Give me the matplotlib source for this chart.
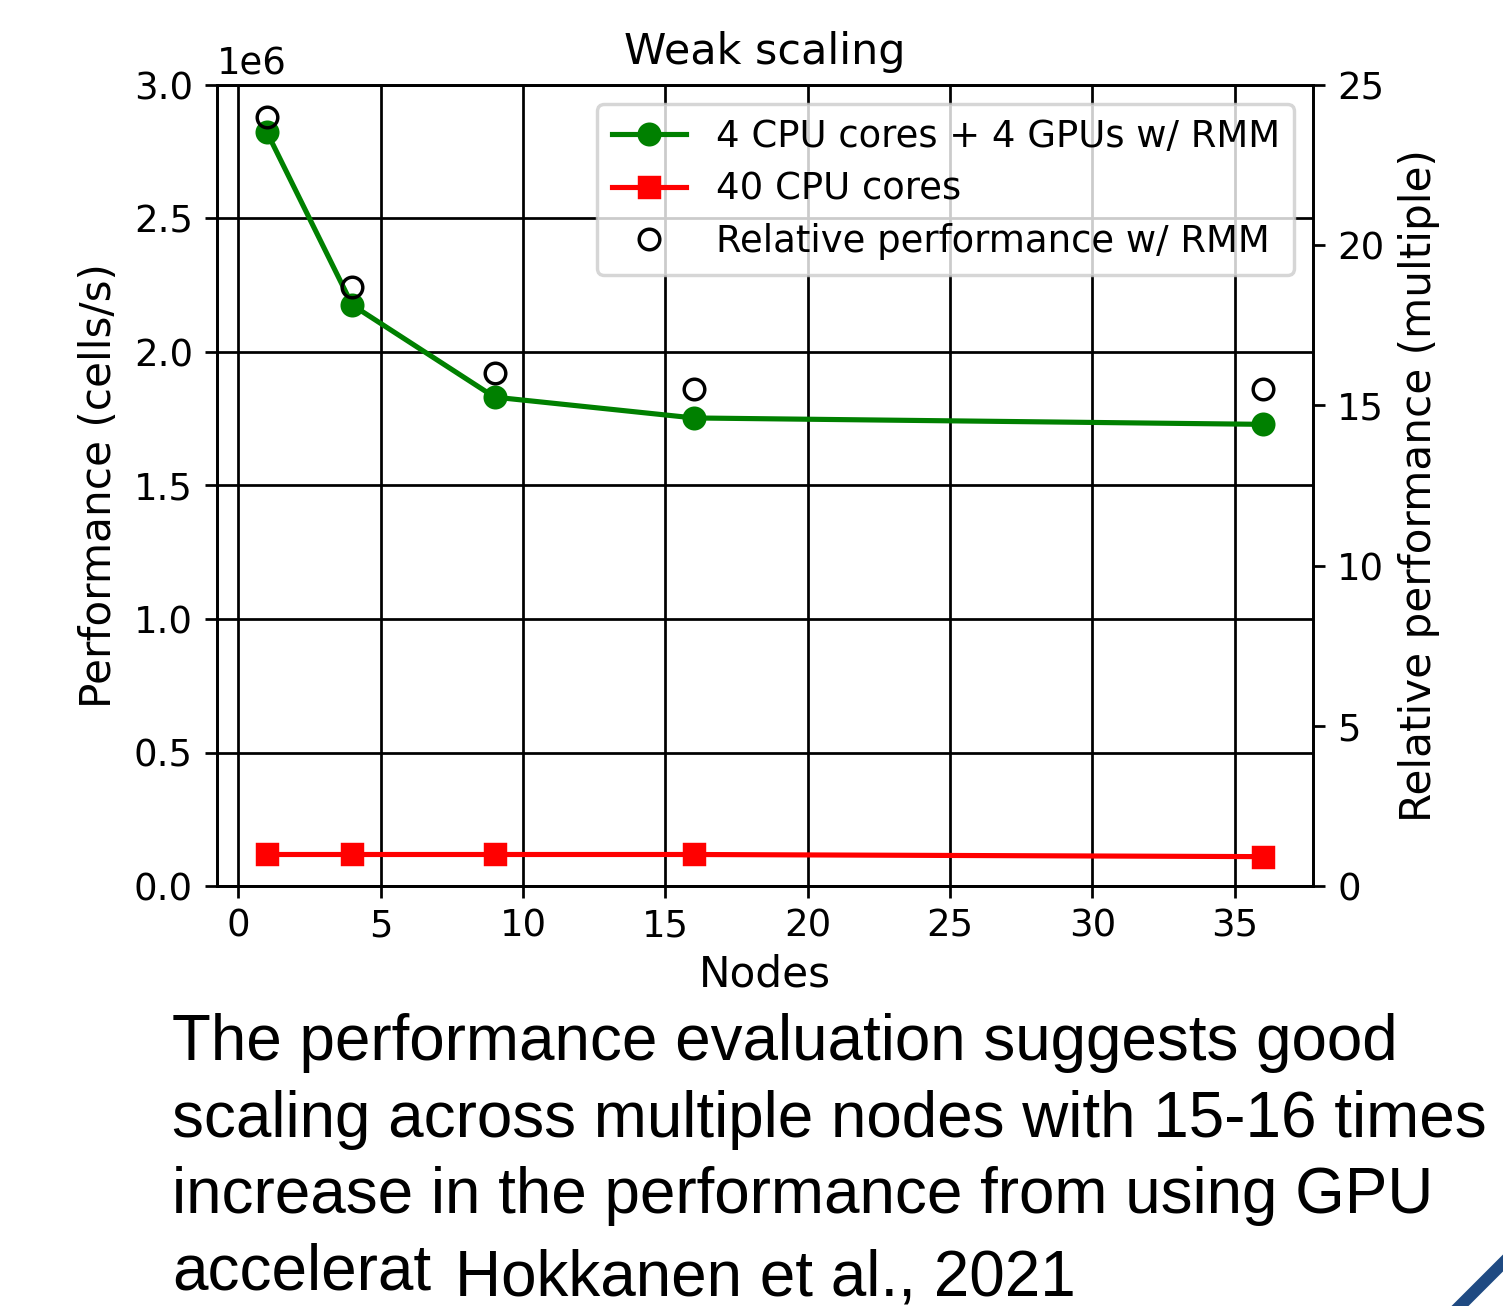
import matplotlib
matplotlib.use("Agg")
import matplotlib.pyplot as plt
from matplotlib.lines import Line2D

# data
nodes = [1, 4, 9, 16, 36]
gpu_perf = [2.824e6, 2.176e6, 1.831e6, 1.753e6, 1.729e6]
cpu_perf = [0.118e6, 0.118e6, 0.118e6, 0.118e6, 0.110e6]
relative = [24.0, 18.7, 16.0, 15.5, 15.5]

# last line is cut off by the citation box on the slide
caption = ["The performance evaluation suggests good",
           "scaling across multiple nodes with 15-16 times",
           "increase in the performance from using GPU",
           "accelerat"]
citation = "Hokkanen et al., 2021"

plt.rcParams['xtick.labelsize'] = 10.8
plt.rcParams['ytick.labelsize'] = 10.8
plt.rcParams['axes.labelsize'] = 12.3
plt.rcParams['axes.titlesize'] = 12.5
plt.rcParams['legend.fontsize'] = 10.8
plt.rcParams['xtick.major.pad'] = 2.8

dpi = 247
fig = plt.figure(figsize=(1503 / dpi, 1306 / dpi), dpi=dpi)
ax = fig.add_axes([217 / 1503, 1 - 886 / 1306, (1313 - 217) / 1503, (886 - 85) / 1306])

l1, = ax.plot(nodes, gpu_perf, 'g-o', label="4 CPU cores + 4 GPUs w/ RMM")
l2, = ax.plot(nodes, cpu_perf, 'r-s', label="40 CPU cores")
ax.set_ylim(0, 3e6)
ax.set_xlabel("Nodes", labelpad=2.5)
ax.set_ylabel("Performance (cells/s)")
ax.set_title("Weak scaling")
ax.grid(True, color='k', linestyle='-', linewidth=0.8)

ax2 = ax.twinx()
l3, = ax2.plot(nodes, relative, 'o', mfc='none', mec='k', label="Relative performance w/ RMM")
ax2.set_ylim(0, 25)
ax2.set_ylabel("Relative performance (multiple)")

ax2.legend(handles=[l1, l2, l3], loc="upper right", labelspacing=0.42)

# slide caption under the chart
ys = [1060, 1137, 1213, 1290]
for line, y in zip(caption, ys):
    fig.text(172 / 1503, 1 - y / 1306, line, fontsize=18.6, family="Liberation Sans",
             va='baseline', ha='left')
fig.text(455 / 1503, 1 - 1295 / 1306, citation, fontsize=18.6, family="Liberation Sans",
         va='baseline', ha='left')

# blue corner decoration
fig.add_artist(Line2D([1460 / 1503, 1.0], [0.0, 1 - 1263 / 1306],
                      transform=fig.transFigure, color='#1f4a82', linewidth=3.5))

plt.savefig("out.png", dpi=dpi)
